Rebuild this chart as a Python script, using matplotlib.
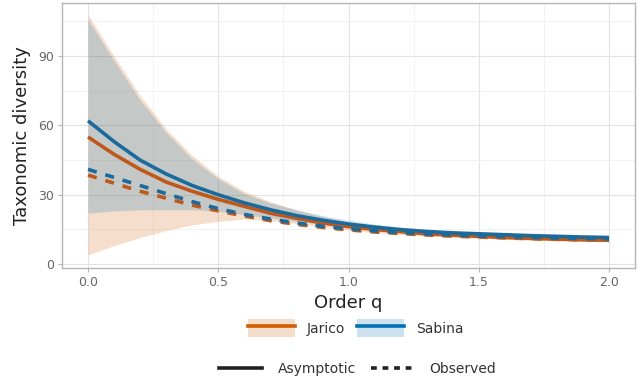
import numpy as np
import matplotlib.pyplot as plt
from matplotlib.lines import Line2D
from matplotlib.patches import Patch

# diversity profile, order q from 0 to 2
q = np.round(np.arange(0, 2.01, 0.1), 1)

sabina_asy = [62, 53, 45, 39, 34, 30, 26.5, 23.5, 21, 19, 17.3, 16, 14.9, 14.1, 13.5,
              13.1, 12.7, 12.3, 12.0, 11.7, 11.5]
sabina_lcl = [22, 23, 23.5, 23.5, 23.5, 22.8, 21.5, 20, 18.5, 17.2, 15.8, 14.8, 13.9,
              13.2, 12.8, 12.4, 12.0, 11.7, 11.4, 11.1, 10.9]
sabina_ucl = [106, 88, 71, 57, 45.5, 37, 30.5, 26.5, 23.5, 21, 19, 17.3, 16, 15, 14.3,
              13.8, 13.3, 12.9, 12.6, 12.3, 12.1]
sabina_obs = [41, 37.5, 34, 30.5, 27, 24, 21.5, 19.5, 17.8, 16.4, 15.3, 14.4, 13.7, 13.1,
              12.6, 12.2, 11.9, 11.6, 11.3, 11.1, 10.9]

jarico_asy = [55, 47.5, 41, 35.5, 31.5, 28, 25, 22, 19.8, 17.8, 16.2, 15, 14, 13.1, 12.5,
              12, 11.5, 11.1, 10.8, 10.5, 10.3]
jarico_lcl = [4, 8, 11.5, 14.5, 17, 18.5, 19.5, 18.8, 17.5, 16, 14.8, 13.6, 12.9, 12.1,
              11.6, 11.2, 10.8, 10.4, 10.1, 9.9, 9.7]
jarico_ucl = [108, 90, 73, 58.5, 47, 38, 31.5, 27, 23.5, 20.5, 18.3, 16.6, 15.2, 14.2,
              13.4, 12.8, 12.3, 11.8, 11.5, 11.2, 11.0]
jarico_obs = [38.5, 35, 31.5, 28.5, 25.5, 23, 20.8, 18.8, 17.2, 15.9, 14.8, 13.9, 13.2,
              12.6, 12.1, 11.7, 11.3, 11.0, 10.7, 10.5, 10.3]

sites = ['Jarico', 'Sabina']
colors = {'Jarico': '#D55E00', 'Sabina': '#0072B2'}
line_colors = {'Jarico': '#C0581C', 'Sabina': '#1A6A9C'}
curves = {
    'Jarico': (jarico_asy, jarico_obs, jarico_lcl, jarico_ucl),
    'Sabina': (sabina_asy, sabina_obs, sabina_lcl, sabina_ucl),
}

fig = plt.figure(figsize=(6.41, 3.81), dpi=100)
ax = fig.add_axes([62 / 641, 1 - 268 / 381, (635 - 62) / 641, (268 - 3) / 381])

for s in sites:
    asy, obs, lcl, ucl = curves[s]
    ax.fill_between(q, lcl, ucl, color=colors[s], alpha=0.2, lw=0)
for s in sites:
    asy, obs, lcl, ucl = curves[s]
    ax.plot(q, asy, color=line_colors[s], lw=2.6, solid_capstyle='butt')
    ax.plot(q, obs, color=line_colors[s], lw=2.6, ls=(0, (2.5, 2.5)),
            dash_capstyle='butt')

ax.set_xlim(-0.1, 2.1)
ax.set_ylim(-1.7, 113)
ax.set_xticks([0, 0.5, 1.0, 1.5, 2.0])
ax.set_xticklabels(['0.0', '0.5', '1.0', '1.5', '2.0'])
ax.set_yticks([0, 30, 60, 90])
ax.set_xticks([0.25, 0.75, 1.25, 1.75], minor=True)
ax.set_yticks([15, 45, 75, 105], minor=True)
ax.grid(which='major', color='#e3e3e3', lw=0.8)
ax.grid(which='minor', color='#f0f0f0', lw=0.6)
ax.set_axisbelow(True)
for sp in ax.spines.values():
    sp.set_color('#b5b5b5')
    sp.set_linewidth(1.0)
ax.tick_params(which='major', length=3, color='#b5b5b5', labelsize=9,
               labelcolor='#666666', pad=3)
ax.tick_params(which='minor', length=0)

ax.set_xlabel('Order q', fontsize=13, color='#222222', labelpad=3)
ax.set_ylabel('Taxonomic diversity', fontsize=13, color='#222222', labelpad=5)

site_handles = [(Patch(facecolor=colors[s], alpha=0.2, lw=0),
                 Line2D([], [], color=colors[s], lw=2.6)) for s in sites]
leg1 = fig.legend(site_handles, sites, loc='center', bbox_to_anchor=(0.555, 0.139),
                  ncol=2, frameon=False, fontsize=10, handlelength=3.4,
                  handleheight=1.6, columnspacing=0.85, handletextpad=0.85)
for t in leg1.get_texts():
    t.set_color('#333333')

method_handles = [Line2D([], [], color='#222222', lw=2.6),
                  Line2D([], [], color='#222222', lw=2.6, ls=(0, (1.6, 1.6)))]
leg2 = fig.legend(method_handles, ['Asymptotic', 'Observed'], loc='center',
                  bbox_to_anchor=(0.558, 0.032), ncol=2, frameon=False, fontsize=10,
                  handlelength=3.1, columnspacing=1.1, handletextpad=1.1)
for t in leg2.get_texts():
    t.set_color('#333333')

fig.savefig('out.png', dpi=100)
